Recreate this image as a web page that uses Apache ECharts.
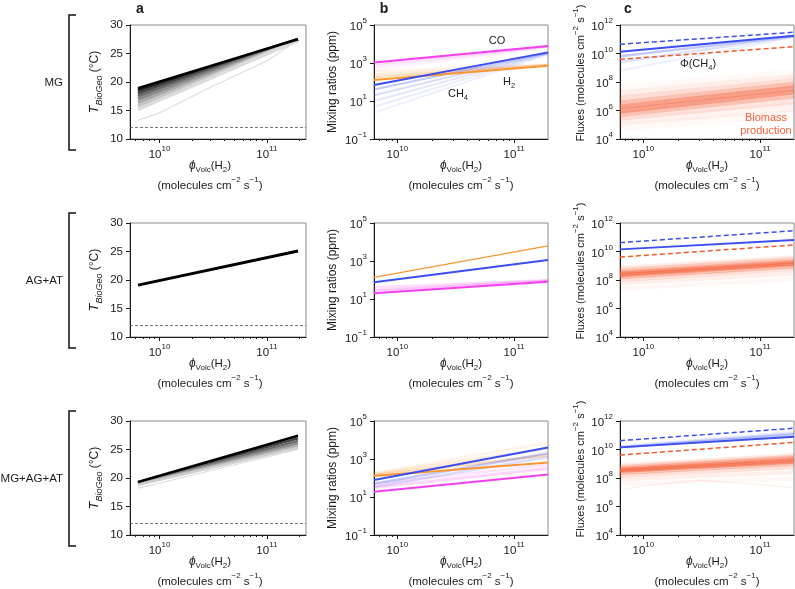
<!DOCTYPE html>
<html>
<head>
<meta charset="utf-8">
<script src="https://cdn.jsdelivr.net/npm/echarts@6.0.0/dist/echarts.min.js"></script>
<style>
html,body{margin:0;padding:0;background:#fff;}
#main{width:795px;height:589px;}
</style>
</head>
<body>
<div id="main"></div>
<script>
// 火山 H2 通量 (两端点 / 曲线采样点)
var xEnds = [6.3e9, 1.95e11];
var xCurve = [6.3e9, 1e10, 3e10, 1e11, 1.95e11];
var xMajor = [1e10, 1e11];
var xMinor = [6e9, 7e9, 8e9, 9e9, 2e10, 3e10, 4e10, 5e10, 6e10, 7e10, 8e10, 9e10, 2e11];

// ---- a 列: T_BioGeo (°C) ----
var tempMG = [18.9, 27.5];
var tempMGFan = [[18.5, 27.45], [18.0, 27.42], [17.5, 27.4], [17.0, 27.38], [16.4, 27.35], [15.8, 27.32], [15.2, 27.3]];
var tempMGFaint = [13.3, 14.6, 19.1, 23.7, 27.3];
var tempAG = [19.1, 25.1];
var tempAll = [19.3, 27.4];
var tempAllFan = [[19.2, 26.95], [19.1, 26.5], [19.0, 26.05], [18.9, 25.65], [18.8, 25.3]];
var tempAllFaint = [18.2, 25.0];
var tempLimit = 12;
var tempTicks = [10, 15, 20, 25, 30];

// ---- b 列: Mixing ratios (ppm) ----
var coMG = [1050, 7760];
var coMGFan = [[794, 7410], [562, 7080], [398, 6760]];
var h2MG = [126, 724];
var h2MGFan = [[178, 759], [251, 794], [355, 832]];
var ch4MG = [69, 3630];
var ch4MGFan = [[40, 3470], [20, 3310], [10, 3160], [5, 3020], [2.4, 2820]];

var h2AG = [138, 6170];
var ch4AG = [76, 1120];
var coAG = [20, 81];
var coAGFan = [[28, 91], [40, 100]];

var ch4All = [78, 4070];
var ch4AllFan = [[50, 2000], [35, 1260]];
var h2All = [126, 646];
var h2AllFan = [[141, 1580], [158, 3550], [178, 7080]];
var coAll = [19, 155];
var coAllFan = [[32, 316], [50, 501]];
var mixTicks = [0.1, 10, 1000, 100000];

// ---- c 列: Fluxes ----
var fluxUpMG = [4.47e10, 3.09e11];
var fluxCH4MG = [1.35e10, 1.78e11];
var fluxCH4MGFan = [[6.3e9, 1.66e11], [2.51e9, 1.58e11], [6.3e8, 1.41e11]];
var fluxRedMG = [3.89e9, 3.02e10];
var bioMG = [[3.16e7, 3.98e8], [1.26e7, 1.78e8], [5.6e6, 8.9e7], [2.5e6, 4.8e7], [1.26e6, 2.75e7], [7.1e5, 1.41e7], [4.0e5, 5.6e6], [1.78e5, 1.78e6], [7.9e4, 5.0e5]];

var fluxUpAG = [4.17e10, 2.88e11];
var fluxCH4AG = [1.41e10, 6.5e10];
var fluxRedAG = [4.07e9, 2.88e10];
var bioAG = [[7.2e8, 3.98e9], [5.0e8, 2.82e9], [3.55e8, 2.0e9], [2.7e8, 1.58e9], [2.14e8, 1.26e9], [1.58e8, 8.9e8], [1.0e8, 5.6e8], [5.6e7, 2.82e8], [2.45e7, 1.12e8]];

var fluxUpAll = [4.17e10, 3.09e11];
var fluxCH4All = [1.41e10, 7.9e10];
var fluxCH4AllFan = [[1.41e10, 1.12e11], [1.51e10, 1.41e11], [1.66e10, 1.78e11]];
var fluxRedAll = [4.07e9, 3.16e10];
var bioAll = [[7.9e8, 4.07e9], [6.0e8, 3.16e9], [4.47e8, 2.4e9], [3.7e8, 1.78e9], [3.1e8, 1.38e9], [2.24e8, 1.0e9], [1.41e8, 5.6e8], [7.9e7, 2.5e8], [4.0e7, 8.9e7]];
var bioAllFaint = [1.45e7, 2.8e7, 7.1e7, 3.55e7, 2.0e7];
var fluxTicks = [1e4, 1e6, 1e8, 1e10, 1e12];

var rowNames = ['MG', 'AG+AT', 'MG+AG+AT'];

/* ------------------------------ 样式 ------------------------------ */
var FONT = '"Liberation Sans", Arial, sans-serif';
var INK = '#1a1a1a';
var C_CO = '#f43ef0', C_CH4 = '#3a4ef2', C_H2 = '#fa9630', C_RED = '#f05a2c', C_BIO = '#f4623c';
var greyMG = ['#dcdcdc', '#c4c4c4', '#a8a8a8', '#8a8a8a', '#6a6a6a', '#474747', '#262626'];
var greyAll = ['#cfcfcf', '#b0b0b0', '#8e8e8e', '#6a6a6a', '#444444'];
var bioAlphaWide = [0.04, 0.08, 0.16, 0.28, 0.45, 0.28, 0.16, 0.08, 0.04];
var bioAlphaNarrow = [0.12, 0.25, 0.4, 0.55, 0.55, 0.35, 0.2, 0.1, 0.05];

var cols = [{left: 130, width: 176}, {left: 374, width: 174}, {left: 620, width: 174}];
var rowTop = [25, 223, 421];
var plotH = 114;

var lx0 = Math.log10(xEnds[0]);
var lx1 = Math.log10(xEnds[1]);
var pad = (lx1 - lx0) * 0.05;

function lg(v) { return Math.log10(v); }
function expLabel(v) {
	var e = Math.round(v);
	return '{b|10}{s|' + String(e).replace('-', '\u2212') + '}';
}
var tickRich = {
	b: {fontSize: 11.5, fontFamily: FONT, color: INK, lineHeight: 16, verticalAlign: 'bottom'},
	s: {fontSize: 8, fontFamily: FONT, color: INK, verticalAlign: 'top'}
};

var grids = [], xAxes = [], yAxes = [], series = [];

for (var r = 0; r < 3; r++) {
	for (var c = 0; c < 3; c++) {
		var g = r * 3 + c;
		grids.push({
			left: cols[c].left, top: rowTop[r], width: cols[c].width, height: plotH,
			show: true, borderColor: '#8a8a8a', borderWidth: 1,
			containLabel: false, outerBoundsMode: 'none'
		});
		var xmin = c === 0 ? lx0 - pad : lx0;
		var xmax = c === 0 ? lx1 + pad : lx1;
		// 主刻度 + 标签
		xAxes.push({
			gridIndex: g, type: 'value', min: xmin, max: xmax, position: 'bottom',
			axisLine: {show: true, onZero: false, lineStyle: {color: INK, width: 1}},
			axisTick: {show: true, length: 4, customValues: xMajor.map(lg), lineStyle: {color: INK}},
			axisLabel: {show: true, margin: 6, customValues: xMajor.map(lg), formatter: expLabel, rich: tickRich},
			splitLine: {show: false}
		});
		// 次刻度
		xAxes.push({
			gridIndex: g, type: 'value', min: xmin, max: xmax, position: 'bottom',
			axisLine: {show: false, onZero: false},
			axisTick: {show: true, length: 2, customValues: xMinor.map(lg), lineStyle: {color: INK}},
			axisLabel: {show: false},
			splitLine: {show: false}
		});
		var y;
		if (c === 0) {
			y = {min: 10, max: 30, ticks: tempTicks, fmt: function (v) { return String(Math.round(v)); }, rich: null};
		} else if (c === 1) {
			y = {min: -1, max: 5, ticks: mixTicks.map(lg), fmt: expLabel, rich: tickRich};
		} else {
			y = {min: 4, max: 12, ticks: fluxTicks.map(lg), fmt: expLabel, rich: tickRich};
		}
		yAxes.push({
			gridIndex: g, type: 'value', min: y.min, max: y.max, position: 'left',
			axisLine: {show: true, onZero: false, lineStyle: {color: INK, width: 1}},
			axisTick: {show: true, length: 4, customValues: y.ticks, lineStyle: {color: INK}},
			axisLabel: {show: true, margin: 7, customValues: y.ticks, formatter: y.fmt, rich: y.rich,
				fontSize: 11.5, fontFamily: FONT, color: INK},
			splitLine: {show: false}
		});
	}
}

function addLine(g, xs, ys, logY, color, width, opacity, dash, z) {
	var s = {
		type: 'line', xAxisIndex: 2 * g, yAxisIndex: g, symbol: 'none', silent: true,
		animation: false, z: z || 2,
		lineStyle: {color: color, width: width, opacity: opacity, type: dash || 'solid', cap: 'butt'},
		data: xs.map(function (x, i) { return [lg(x), logY ? lg(ys[i]) : ys[i]]; })
	};
	series.push(s);
	return s;
}

/* ---- a 列 ---- */
addLine(0, xCurve, tempMGFaint, false, '#cccccc', 0.8, 1, null, 2);
tempMGFan.forEach(function (d, i) { addLine(0, xEnds, d, false, greyMG[6 - i], 3.5, 1, null, 3); });
var sa0 = addLine(0, xEnds, tempMG, false, '#000', 2.5, 1, null, 4);
var sa1 = addLine(3, xEnds, tempAG, false, '#000', 3, 1, null, 4);
addLine(6, xEnds, tempAllFaint, false, '#d0d0d0', 0.8, 1, null, 2);
tempAllFan.forEach(function (d, i) { addLine(6, xEnds, d, false, greyAll[4 - i], 2.5, 1, null, 3); });
var sa2 = addLine(6, xEnds, tempAll, false, '#000', 2.5, 1, null, 4);
[sa0, sa1, sa2].forEach(function (s) {
	s.markLine = {
		silent: true, symbol: 'none', animation: false, label: {show: false},
		lineStyle: {type: [3, 2], color: '#555', width: 0.8},
		data: [{yAxis: tempLimit}]
	};
});

/* ---- b 列 ---- */
var fanA = [0.3, 0.18, 0.1];
coMGFan.forEach(function (d, i) { addLine(1, xEnds, d, true, C_CO, 2, fanA[i] * 0.6, null, 2); });
h2MGFan.forEach(function (d, i) { addLine(1, xEnds, d, true, C_H2, 2.5, fanA[i], null, 2); });
var ch4A = [0.3, 0.2, 0.14, 0.1, 0.08];
ch4MGFan.forEach(function (d, i) { addLine(1, xEnds, d, true, C_CH4, 2, ch4A[i], null, 2); });
addLine(1, xEnds, coMG, true, C_CO, 2, 1, null, 4);
addLine(1, xEnds, h2MG, true, C_H2, 2, 1, null, 4);
addLine(1, xEnds, ch4MG, true, C_CH4, 2, 1, null, 5);

coAGFan.forEach(function (d, i) { addLine(4, xEnds, d, true, C_CO, 2.5, fanA[i], null, 2); });
addLine(4, xEnds, h2AG, true, C_H2, 1.3, 1, null, 4);
addLine(4, xEnds, ch4AG, true, C_CH4, 2, 1, null, 4);
addLine(4, xEnds, coAG, true, C_CO, 2, 1, null, 4);

coAllFan.forEach(function (d, i) { addLine(7, xEnds, d, true, C_CO, 3, fanA[i] * 0.7, null, 2); });
h2AllFan.forEach(function (d, i) { addLine(7, xEnds, d, true, C_H2, 3, fanA[i], null, 2); });
ch4AllFan.forEach(function (d, i) { addLine(7, xEnds, d, true, C_CH4, 2.5, fanA[i], null, 2); });
addLine(7, xEnds, coAll, true, C_CO, 2, 1, null, 4);
addLine(7, xEnds, h2All, true, C_H2, 2, 1, null, 4);
addLine(7, xEnds, ch4All, true, C_CH4, 2, 1, null, 5);

/* ---- c 列 ---- */
function fluxPanel(g, up, ch4, ch4Fan, red, bio, bioW, alpha) {
	bio.forEach(function (d, i) { addLine(g, xEnds, d, true, C_BIO, bioW, alpha[i], null, 2); });
	(ch4Fan || []).forEach(function (d, i) { addLine(g, xEnds, d, true, C_CH4, 2.5, [0.3, 0.16, 0.08][i], null, 3); });
	addLine(g, xEnds, up, true, C_CH4, 1.5, 1, [5, 3], 4);
	addLine(g, xEnds, ch4, true, C_CH4, 2, 1, null, 4);
	addLine(g, xEnds, red, true, C_RED, 1.5, 1, [5, 3], 4);
}
fluxPanel(2, fluxUpMG, fluxCH4MG, fluxCH4MGFan, fluxRedMG, bioMG, 9, bioAlphaWide);
fluxPanel(5, fluxUpAG, fluxCH4AG, null, fluxRedAG, bioAG, 4, bioAlphaNarrow);
addLine(8, xCurve, bioAllFaint, true, C_BIO, 1, 0.12, null, 2);
fluxPanel(8, fluxUpAll, fluxCH4All, fluxCH4AllFan, fluxRedAll, bioAll, 4, bioAlphaNarrow);

/* ------------------------------ 文本 ------------------------------ */
var graphic = [];
function txt(x, y, text, opt) {
	opt = opt || {};
	graphic.push({
		type: 'text', x: x, y: y, rotation: opt.rot || 0, silent: true,
		style: {
			text: text, fill: opt.color || INK, fontSize: opt.size || 11, fontFamily: FONT,
			fontWeight: opt.weight || 'normal', align: opt.align || 'center', verticalAlign: 'middle',
			rich: opt.rich
		}
	});
}
function makeRich(fs) {
	var ss = Math.round(fs * 0.72);
	return {
		n: {fontSize: fs, fontFamily: FONT, color: INK, lineHeight: fs + 3, verticalAlign: 'top'},
		i: {fontSize: fs + 0.5, fontFamily: FONT, color: INK, fontStyle: 'italic', lineHeight: fs + 3, verticalAlign: 'top'},
		sub: {fontSize: ss, fontFamily: FONT, color: INK, verticalAlign: 'bottom'},
		isub: {fontSize: ss, fontFamily: FONT, color: INK, fontStyle: 'italic', verticalAlign: 'bottom'},
		supn: {fontSize: fs, fontFamily: FONT, color: INK, lineHeight: fs + 4, verticalAlign: 'bottom'},
		sup: {fontSize: ss, fontFamily: FONT, color: INK, verticalAlign: 'top'}
	};
}
var richX = makeRich(11.5);
var richY = makeRich(11);
var xTitle1 = '{i|\u03d5}{sub|Volc}{n|(H}{sub|2}{n|)}';
var xTitle2 = '{supn|(molecules cm}{sup|\u22122}{supn| s}{sup|\u22121}{supn|)}';
var xTitleX = [210, 461, 707];

for (var rr = 0; rr < 3; rr++) {
	var rowY = rowTop[rr];
	var rowB = rowY + plotH;
	for (var cc = 0; cc < 3; cc++) {
		txt(xTitleX[cc], rowB + 28, xTitle1, {rich: richX});
		txt(xTitleX[cc], rowB + 45, xTitle2, {rich: richX});
	}
	txt(96, rowY + 57, '{i|T}{isub|BioGeo}{n| (\u00b0C)}', {rot: Math.PI / 2, rich: makeRich(12)});
	txt(333, rowY + 57, 'Mixing ratios (ppm)', {rot: Math.PI / 2, size: 12});
	txt(579, rowY + 48, xTitle2.replace('(molecules', 'Fluxes (molecules'), {rot: Math.PI / 2, rich: richY});
	// 行标签与括号
	txt(63, rowY + 58, rowNames[rr], {align: 'right', size: 11.5});
	graphic.push({
		type: 'polyline', silent: true,
		shape: {points: [[76, rowY - 10], [69, rowY - 10], [69, rowB + 11], [76, rowB + 11]]},
		style: {stroke: '#111', lineWidth: 1.5, fill: null}
	});
}
txt(140, 9, 'a', {weight: 'bold', size: 14});
txt(384, 9, 'b', {weight: 'bold', size: 14});
txt(628, 9, 'c', {weight: 'bold', size: 14});

var labRich = function (col) {
	return {
		n: {fontSize: 11, fontFamily: FONT, color: col, lineHeight: 13, verticalAlign: 'top'},
		sub: {fontSize: 7.5, fontFamily: FONT, color: col, verticalAlign: 'bottom'}
	};
};
txt(497, 42, '{n|CO}', {rich: labRich(C_CO)});
txt(509, 83, '{n|H}{sub|2}', {rich: labRich(C_H2)});
txt(458, 95, '{n|CH}{sub|4}', {rich: labRich(C_CH4)});
txt(698, 65, '{n|\u03a6(CH}{sub|4}{n|)}', {rich: labRich(C_CH4)});
txt(766, 118, 'Biomass', {color: C_BIO, size: 11});
txt(766, 131, 'production', {color: C_BIO, size: 11});

var chart = echarts.init(document.getElementById('main'), null, {renderer: 'canvas'});
chart.setOption({
	animation: false,
	backgroundColor: '#fff',
	textStyle: {fontFamily: FONT},
	grid: grids,
	xAxis: xAxes,
	yAxis: yAxes,
	series: series,
	graphic: graphic
});
</script>
</body>
</html>
